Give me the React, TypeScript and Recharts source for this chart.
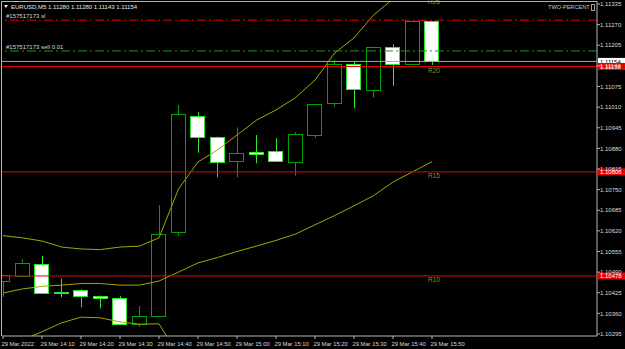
import React from "react";
import { ComposedChart, Bar, Line, XAxis, YAxis, ReferenceLine, ReferenceDot } from "recharts";

// ---- data ----
const barTimes = ["14:00","14:05","14:10","14:15","14:20","14:25","14:30","14:35","14:40","14:45","14:50","14:55","15:00","15:05","15:10","15:15","15:20","15:25","15:30","15:35","15:40","15:45","15:50"];
const tickIndex = [0, 2, 4, 6, 8, 10, 12, 14, 16, 18, 20, 22];
const tickLabels = ["29 Mar 2022","29 Mar 14:10","29 Mar 14:20","29 Mar 14:30","29 Mar 14:40","29 Mar 14:50","29 Mar 15:00","29 Mar 15:10","29 Mar 15:20","29 Mar 15:30","29 Mar 15:40","29 Mar 15:50"];

const opens = [1.10462,1.10479,1.10516,1.10426,1.10433,1.10414,1.10408,1.10326,1.10351,1.10615,1.10981,1.10915,1.10839,1.10868,1.10873,1.10837,1.10922,1.11022,1.11145,1.11063,1.11200,1.11147,1.11280];
const highs = [1.10482,1.10530,1.10541,1.10469,1.10436,1.10416,1.10415,1.10383,1.10701,1.11017,1.10994,1.10917,1.10946,1.10922,1.10912,1.10931,1.11020,1.11158,1.11153,1.11201,1.11208,1.11282,1.11280];
const lows = [1.10412,1.10475,1.10424,1.10411,1.10379,1.10376,1.10325,1.10318,1.10350,1.10605,1.10866,1.10789,1.10789,1.10833,1.10838,1.10794,1.10913,1.11011,1.11006,1.11040,1.11077,1.11142,1.11143];
const closes = [1.10481,1.10520,1.10425,1.10425,1.10414,1.10408,1.10326,1.10352,1.10610,1.10987,1.10917,1.10836,1.10864,1.10862,1.10840,1.10924,1.11019,1.11146,1.11066,1.11200,1.11145,1.11281,1.11154];

const upperBand = [1.10605,1.10598,1.10588,1.10569,1.10563,1.10561,1.10569,1.10572,1.10598,1.10752,1.10837,1.10875,1.10922,1.10969,1.11001,1.11040,1.11095,1.11180,1.11228,1.11300,1.11351,1.11390,1.11420];
const middleBand = [1.10424,1.10437,1.10445,1.10449,1.10454,1.10454,1.10449,1.10449,1.10462,1.10490,1.10519,1.10536,1.10555,1.10572,1.10590,1.10610,1.10639,1.10668,1.10699,1.10731,1.10774,1.10806,1.10838];
const lowerBand = [1.10243,1.10276,1.10302,1.10330,1.10348,1.10346,1.10333,1.10326,1.10327,1.10228,1.10201,1.10197,1.10188,1.10175,1.10179,1.10180,1.10183,1.10156,1.10170,1.10162,1.10197,1.10222,1.10256];

const priceTicks = [1.10295,1.1036,1.10425,1.1049,1.10555,1.1062,1.10685,1.1075,1.10815,1.1088,1.10945,1.1101,1.11075,1.1114,1.11205,1.1127,1.11335];

const slLevel = 1.11284;
const sellLevel = 1.11187;
const bidLevel = 1.11154;
const resistanceNames = ["R25", "R20", "R15", "R10"];
const resistanceLevels = [1.11355, 1.11138, 1.10806, 1.10478];

const headerText = "EURUSD,M5  1.11280 1.11280 1.11143 1.11154";
const slText = "#157517173 sl";
const sellText = "#157517173 sell 0.01";
const panelText = "TWO-PERCENT";

const data = opens.map((o, i) => ({
  i,
  time: barTimes[i],
  open: o,
  high: highs[i],
  low: lows[i],
  close: closes[i],
  hl: [lows[i], highs[i]],
  upper: upperBand[i],
  mid: middleBand[i],
  lower: lowerBand[i],
}));

const FONT = "'Liberation Sans', Arial, sans-serif";
const BULL = "#00a400";
const BEAR = "#2ee82e";
const BAND = "#a6a600";
const RED = "#e80000";
const AXIS = "#b4b4b4";

const Candle = (props: any) => {
  const { x, y, width, height, payload } = props;
  if (!payload || height == null) return null;
  const { open, close, high, low } = payload;
  const range = high - low;
  const py = (p: number) => (range === 0 ? y : y + ((high - p) / range) * height);
  const bull = close > open;
  const color = bull ? BULL : BEAR;
  const cx = Math.round(x + width / 2) + 0.5;
  const top = Math.round(py(Math.max(open, close)));
  const bot = Math.round(py(Math.min(open, close)));
  const left = Math.round(x) + 0.5;
  const w = Math.round(width) - 1;
  return (
    <g>
      <line x1={cx} x2={cx} y1={y} y2={y + height} stroke={color} strokeWidth={1} />
      <rect x={left} y={top + 0.5} width={w} height={Math.max(bot - top, 0)} fill={bull ? "#000" : "#fff"} stroke={color} strokeWidth={1} />
    </g>
  );
};

const YTick = (props: any) => {
  const { x, y, payload } = props;
  return (
    <text x={x} y={y} dy={2.2} fill="#d8d8d8" fontSize={6} fontFamily={FONT} textAnchor="start">
      {Number(payload.value).toFixed(5)}
    </text>
  );
};

const XTick = (props: any) => {
  const { x, y, payload } = props;
  const k = tickIndex.indexOf(payload.value);
  return (
    <text x={x - 1.5} y={y} dy={5} fill="#d8d8d8" fontSize={5.8} fontFamily={FONT} textAnchor="start">
      {k >= 0 ? tickLabels[k] : ""}
    </text>
  );
};

const axisTag = (level: number, bg: string, fg: string) => (props: any) => {
  const vb = props.viewBox || {};
  const x = (vb.x || 0) + (vb.width || 0);
  const y = vb.y || 0;
  return (
    <g>
      <rect x={x + 1} y={y - 3.5} width={28} height={7} fill={bg} />
      <text x={x + 3} y={y + 2.2} fill={fg} fontSize={6} fontFamily={FONT}>
        {level.toFixed(5)}
      </text>
    </g>
  );
};

const lineText = (text: string) => (props: any) => {
  const vb = props.viewBox || {};
  return (
    <text x={(vb.x || 0) + 4} y={(vb.y || 0) - 2} fill="#d8d8d8" fontSize={6} fontFamily={FONT}>
      {text}
    </text>
  );
};

const rLabel = (text: string) => (props: any) => {
  const vb = props.viewBox || {};
  const cx = vb.cx ?? (vb.x || 0) + (vb.width || 0) / 2;
  const cy = vb.cy ?? (vb.y || 0) + (vb.height || 0) / 2;
  return (
    <text x={cx + 2} y={cy + 6.5} fill="#789a2a" fontSize={6.5} fontFamily={FONT} textAnchor="middle">
      {text}
    </text>
  );
};

export default function App() {
  return (
    <div style={{ position: "absolute", left: 0, top: 0, width: 625, height: 349, background: "#000", overflow: "hidden" }}>
      <ComposedChart width={625} height={349} data={data} margin={{ top: 1, right: 0, left: 2, bottom: 0 }}>
        <XAxis
          dataKey="i"
          type="number"
          domain={[-0.05, 30.46]}
          allowDataOverflow
          ticks={tickIndex}
          tick={<XTick />}
          tickLine={{ stroke: AXIS }}
          tickSize={3}
          axisLine={{ stroke: AXIS }}
          height={13}
          interval={0}
        />
        <YAxis
          orientation="right"
          type="number"
          domain={[1.102887, 1.113444]}
          allowDataOverflow
          ticks={priceTicks}
          tick={<YTick />}
          tickLine={{ stroke: AXIS }}
          tickSize={3}
          tickMargin={0}
          axisLine={{ stroke: AXIS }}
          width={28}
          interval={0}
        />
        <Bar dataKey="hl" barSize={15} shape={<Candle />} isAnimationActive={false} />
        <Line dataKey="upper" stroke={BAND} strokeWidth={1} dot={false} isAnimationActive={false} />
        <Line dataKey="mid" stroke={BAND} strokeWidth={1} dot={false} isAnimationActive={false} />
        <Line dataKey="lower" stroke={BAND} strokeWidth={1} dot={false} isAnimationActive={false} />
        <ReferenceLine y={slLevel} stroke={RED} strokeDasharray="9 3 2 3" label={lineText(slText)} />
        <ReferenceLine y={sellLevel} stroke="#1a9a1a" strokeDasharray="9 3 2 3" label={lineText(sellText)} />
        <ReferenceLine y={bidLevel} stroke="#a8a8a8" label={axisTag(bidLevel, "#ffffff", "#000000")} />
        {resistanceLevels.slice(1).map((lv, k) => (
          <ReferenceLine key={"r" + k} y={lv} stroke={RED} label={axisTag(lv, RED, "#ffffff")} />
        ))}
        {resistanceLevels.map((lv, k) => (
          <ReferenceDot key={"rl" + k} x={22} y={lv} r={0} fill="none" stroke="none" ifOverflow="visible" label={rLabel(resistanceNames[k])} />
        ))}
      </ComposedChart>
      <svg width={625} height={349} style={{ position: "absolute", left: 0, top: 0, pointerEvents: "none" }}>
        <line x1={1.5} y1={1} x2={1.5} y2={336} stroke={AXIS} />
        <line x1={1} y1={1.5} x2={597} y2={1.5} stroke={AXIS} />
        <polygon points="4,5 8,5 6,8" fill="#e8e8e8" />
        <text x={11} y={8.5} fill="#e8e8e8" fontSize={6} fontFamily={FONT}>{headerText}</text>
        <text x={548} y={9.3} fill="#c8c8c8" fontSize={5.6} fontFamily={FONT}>{panelText}</text>
        <rect x={591.5} y={4.5} width={3} height={6} fill="none" stroke="#a0a0a0" />
      </svg>
    </div>
  );
}
